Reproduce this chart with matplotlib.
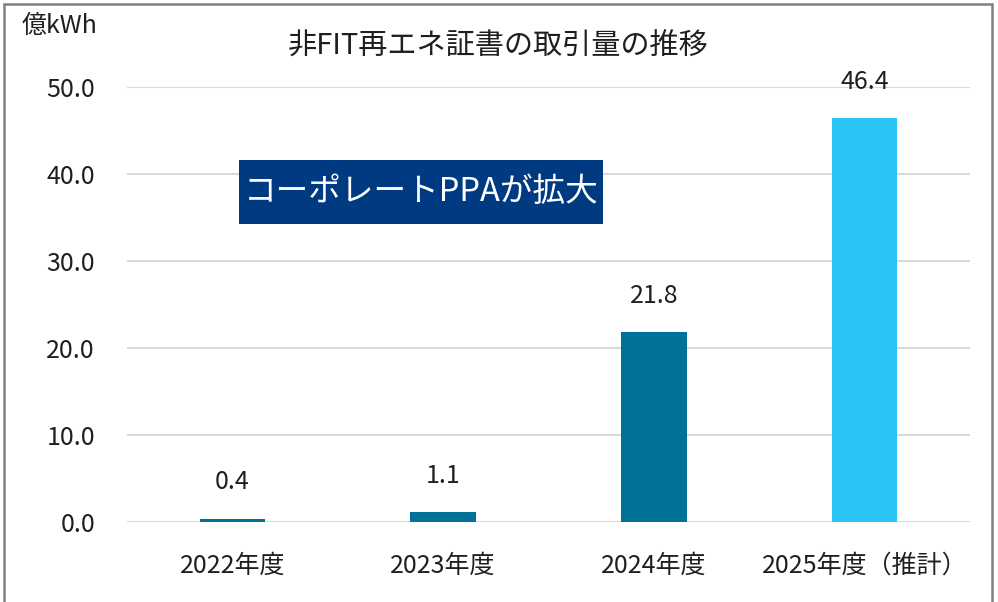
import matplotlib
matplotlib.use("Agg")
import matplotlib.pyplot as plt
from matplotlib.patches import Rectangle

plt.rcParams['font.family'] = ['Noto Sans CJK JP', 'DejaVu Sans']

categories = ["2022年度", "2023年度", "2024年度", "2025年度（推計）"]
values = [0.4, 1.1, 21.8, 46.4]
value_labels = ["0.4", "1.1", "21.8", "46.4"]
bar_colors = ["#00729A", "#00729A", "#00729A", "#2BC4F5"]
yticks = [0, 10, 20, 30, 40, 50]
ytick_labels = ["0.0", "10.0", "20.0", "30.0", "40.0", "50.0"]
title = "非FIT再エネ証書の取引量の推移"
unit = "億kWh"
note = "コーポレートPPAが拡大"

W, H = 998, 602
fig = plt.figure(figsize=(W / 100, H / 100), dpi=100)
ax = fig.add_axes([127 / W, (H - 522) / H, 843 / W, (522 - 87) / H])

x = list(range(len(categories)))
ax.bar(x, values, width=0.31, color=bar_colors, zorder=3)
ax.set_xlim(-0.5, len(categories) - 0.5)
ax.set_ylim(0, 50)
ax.set_yticks(yticks)
ax.set_yticklabels(ytick_labels)
ax.set_xticks(x)
ax.set_xticklabels(categories)
ax.grid(axis='y', color='#d9d9d9', linewidth=1.5, zorder=0)
ax.set_axisbelow(True)
for s in ax.spines.values():
    s.set_visible(False)
ax.tick_params(axis='both', length=0, colors='#1f1f1f', labelsize=18)
ax.tick_params(axis='y', pad=23)
ax.tick_params(axis='x', pad=22)

for xi, v, lab in zip(x, values, value_labels):
    ax.annotate(lab, (xi, v), xytext=(0, 26), textcoords='offset points',
                ha='center', va='center', fontsize=18, color='#1f1f1f',
                annotation_clip=False)

fig.text(498 / W, 1 - 47 / H, title, ha='center', va='center', fontsize=21, color='#1f1f1f')
fig.text(22 / W, 1 - 26 / H, unit, ha='left', va='center', fontsize=18, color='#1f1f1f')

fig.patches.append(Rectangle((239 / W, 1 - 224 / H), 364 / W, 64 / H,
                             transform=fig.transFigure, facecolor='#003A80',
                             edgecolor='none', zorder=5))
fig.text(421 / W, 1 - 192 / H, note, ha='center', va='center', fontsize=23.5,
         color='white', zorder=6)

fig.patches.append(Rectangle((4 / W, -0.05), 988 / W, 1 - 4 / H + 0.05,
                             transform=fig.transFigure, facecolor='none',
                             edgecolor='#808080', linewidth=1.8, zorder=10))

fig.savefig("out.png", dpi=100)
